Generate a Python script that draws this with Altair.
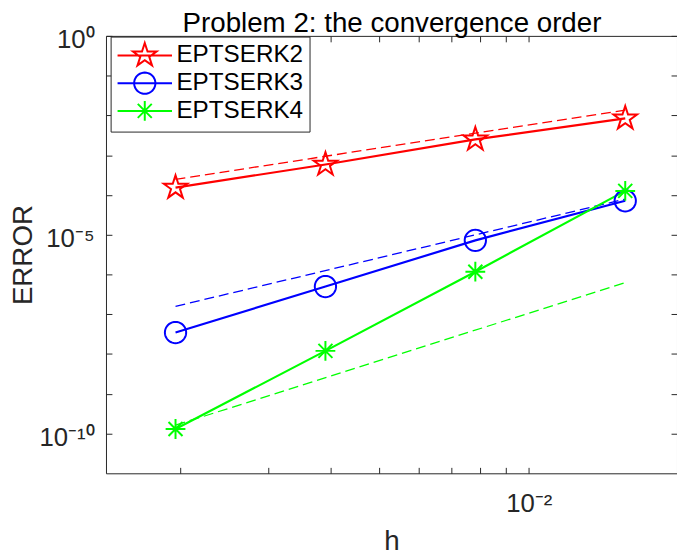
import math
import altair as alt
import pandas as pd

# ---------------- data ----------------
series = ["EPTSERK2", "EPTSERK3", "EPTSERK4"]
h = [0.001953125, 0.00390625, 0.0078125, 0.015625]
err_eptserk2 = [1.53e-4, 5.83e-4, 2.49e-3, 8.41e-3]
err_eptserk3 = [3.47e-8, 4.98e-7, 7.21e-6, 7.13e-5]
err_eptserk4 = [1.30e-10, 1.20e-8, 1.175e-6, 1.265e-4]

ref_h = [0.001953125, 0.015625]
ref_eptserk2 = [2.47e-4, 1.36e-2]
ref_eptserk3 = [1.58e-7, 7.87e-5]
ref_eptserk4 = [1.62e-10, 6.25e-7]

x_ticks = [0.002, 0.003, 0.004, 0.005, 0.006, 0.007, 0.008, 0.009, 0.01]
y_ticks = [1e-10, 1e-9, 1e-8, 1e-7, 1e-6, 1e-5, 1e-4, 1e-3, 1e-2, 1e-1, 1.0]
x_domain = [1.416e-3, 0.01985]
y_domain = [1e-11, 1.0]

title_text = "Problem 2: the convergence order"
x_title = "h"
y_title = "ERROR"
colors = ["#ff0000", "#0000ff", "#00ff00"]

FONT = "Liberation Sans"
AX = "#262626"

# ---------------- tables ----------------
rows = []
for s, vals in zip(series, [err_eptserk2, err_eptserk3, err_eptserk4]):
    for hv, ev in zip(h, vals):
        rows.append({"series": s, "h": hv, "err": ev})
df = pd.DataFrame(rows)

ref_rows = []
for s, vals in zip(series, [ref_eptserk2, ref_eptserk3, ref_eptserk4]):
    for hv, ev in zip(ref_h, vals):
        ref_rows.append({"series": s, "h": hv, "err": ev})
df_ref = pd.DataFrame(ref_rows)


# ---------------- marker shapes (SVG paths, unit = sqrt(size)/2 px) ----------------
def f(v):
    return f"{v:.4f}"


def star_path(r, cx=0.0):
    pts = []
    for k in range(10):
        ang = math.radians(-90 + 36 * k)
        rr = r if k % 2 == 0 else r * 0.382
        pts.append((cx + rr * math.cos(ang), rr * math.sin(ang)))
    return "M" + "L".join(f"{f(x)},{f(y)}" for x, y in pts) + "Z"


def circle_path(r, cx=0.0, n=40):
    pts = []
    for k in range(n):
        ang = 2 * math.pi * k / n
        pts.append((cx + r * math.cos(ang), r * math.sin(ang)))
    return "M" + "L".join(f"{f(x)},{f(y)}" for x, y in pts) + "Z"


def asterisk_path(r, cx=0.0):
    d = r * 0.7071
    return (f"M{f(cx)},{f(-r)}L{f(cx)},{f(r)}M{f(cx - r)},0L{f(cx + r)},0"
            f"M{f(cx - d)},{f(-d)}L{f(cx + d)},{f(d)}M{f(cx - d)},{f(d)}L{f(cx + d)},{f(-d)}")


# plot markers: size 625 -> unit 12.5 px
plot_shapes = [star_path(1.0), circle_path(0.86), asterisk_path(0.8)]

# legend symbols: size 576 -> unit 12 px, symbol centre at 12 px in the entry;
# the 55 px line sample runs from 0 to 55 px, marker in its middle (27.5 px)
U = 12.0
CX = (27.5 - 12.0) / U
LINE = f"M{f(-12.0 / U)},0L{f(43.0 / U)},0"
legend_shapes = [LINE + star_path(12.5 / U, CX),
                 LINE + circle_path(10.75 / U, CX),
                 LINE + asterisk_path(10.0 / U, CX)]

# ---------------- scales ----------------
xs = alt.Scale(type="log", domain=x_domain, nice=False)
ys = alt.Scale(type="log", domain=y_domain, nice=False)
cs = alt.Scale(domain=series, range=colors)

tick_common = dict(grid=False, domain=False, ticks=True, tickSize=6, tickColor=AX,
                   tickWidth=1, offset=-6)

x_bottom = alt.Axis(
    orient="bottom", values=x_ticks,
    labelExpr="abs(log(datum.value)/LN10 + 2) < 0.01 ? '10⁻²' : ''",
    labelFont=FONT, labelFontSize=26, labelColor=AX, labelPadding=18,
    labelFlush=False, labelOverlap=False,
    title=x_title, titleFont=FONT, titleFontSize=28, titleFontWeight="normal",
    titleColor=AX, titleY=83.2, titleBaseline="alphabetic",
    **tick_common)
x_top = alt.Axis(
    orient="top", values=x_ticks, labels=False,
    title=title_text, titleFont=FONT, titleFontSize=28, titleFontWeight="normal",
    titleColor="#000000", titleY=-10.9, titleBaseline="alphabetic",
    **tick_common)

y_left = alt.Axis(
    orient="left", values=y_ticks,
    labelExpr=("abs(log(datum.value)/LN10) < 0.01 ? '10⁰' : "
               "(abs(log(datum.value)/LN10 + 5) < 0.01 ? '10⁻⁵' : "
               "(abs(log(datum.value)/LN10 + 10) < 0.01 ? '10⁻¹⁰' : ''))"),
    labelFont=FONT, labelFontSize=26, labelColor=AX, labelPadding=12, labelOffset=4,
    labelFlush=False, labelOverlap=False, labelAlign="right", labelBaseline="middle",
    title=y_title, titleFont=FONT, titleFontSize=28, titleFontWeight="normal",
    titleColor=AX, titleX=-81.3, titleY=221, titleAngle=270, titleBaseline="alphabetic",
    titleAlign="center",
    **tick_common)
y_right = alt.Axis(orient="right", values=y_ticks, labels=False, title=None, **tick_common)

legend_def = alt.Legend(
    title=None, orient="none", legendX=4.7, legendY=0.7,
    symbolSize=576, symbolStrokeWidth=2, symbolOffset=0,
    labelFont=FONT, labelFontSize=24.5, labelColor="#000000", labelOffset=34.5,
    padding=6, rowPadding=-1.9,
    strokeColor=AX, fillColor="#ffffff", labelLimit=400,
)

# ---------------- layers ----------------
dashed = alt.Chart(df_ref).mark_line(strokeDash=[10, 5], strokeWidth=1.3).encode(
    x=alt.X("h:Q", scale=xs, axis=x_top),
    y=alt.Y("err:Q", scale=ys, axis=y_right),
    color=alt.Color("series:N", scale=cs, legend=None),
)

solid = alt.Chart(df).mark_line(strokeWidth=2.2).encode(
    x=alt.X("h:Q", scale=xs, axis=x_bottom),
    y=alt.Y("err:Q", scale=ys, axis=y_left),
    color=alt.Color("series:N", scale=cs, legend=None),
)

points = alt.Chart(df).mark_point(filled=False, size=625, strokeWidth=2, opacity=1).encode(
    x=alt.X("h:Q", scale=xs, axis=None),
    y=alt.Y("err:Q", scale=ys, axis=None),
    color=alt.Color("series:N", scale=cs, legend=None),
    shape=alt.Shape("series:N", scale=alt.Scale(domain=series, range=plot_shapes), legend=None),
)

legend_layer = alt.Chart(df).transform_filter("false").mark_point(
    filled=False, size=576, strokeWidth=2, opacity=1).encode(
    x=alt.X("h:Q", scale=xs, axis=None),
    y=alt.Y("err:Q", scale=ys, axis=None),
    color=alt.Color("series:N", scale=cs, legend=legend_def),
    shape=alt.Shape("series:N", scale=alt.Scale(domain=series, range=legend_shapes),
                    legend=legend_def),
)

chart = alt.layer(dashed, solid, points, legend_layer).resolve_scale(
    color="independent", shape="independent"
).resolve_axis(
    x="independent", y="independent"
).properties(
    width=577, height=442,
    padding={"left": 99, "top": 25.3, "right": 0, "bottom": 84},
    autosize=alt.AutoSizeParams(type="none"),
    background="#ffffff",
).configure_view(stroke=AX, strokeWidth=1)

chart.save("out.html", embed_options={"renderer": "svg", "actions": False})
